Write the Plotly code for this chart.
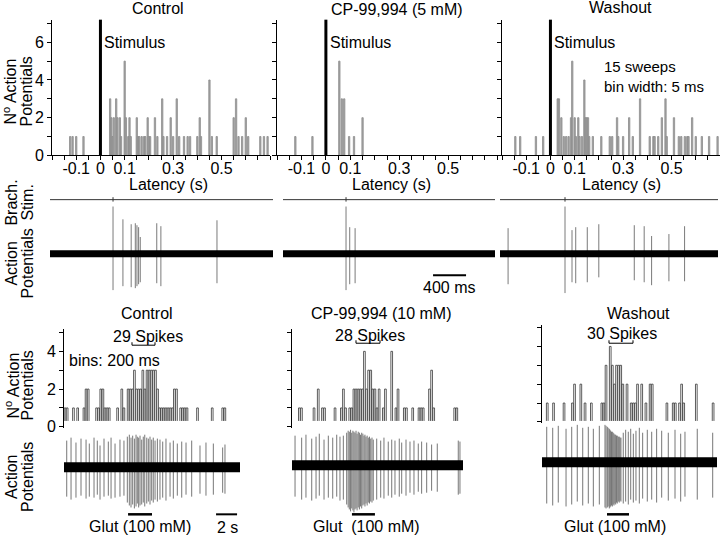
import plotly.graph_objects as go

W, H = 720, 544
FONT = "Liberation Sans, Arial, sans-serif"

# ---------------- top row: latency histograms (bin centre ms, count) ----------------
lat_ctrl_ms = [-125, -115, -100, -70,
               40, 45, 50, 55, 65, 70, 80, 85, 100, 105, 115, 120, 125,
               150, 155, 160, 170, 180, 185, 195, 200, 205,
               225, 235, 255, 260, 275, 290, 300, 315, 325,
               345, 360, 370, 400, 410, 415, 450, 460, 480,
               550, 560, 570, 585, 600, 610, 660, 675, 690]
lat_ctrl_n = [1, 1, 1, 1,
              3, 2, 1, 2, 3, 2, 2, 1, 5, 2, 1, 2, 1,
              2, 1, 1, 1, 1, 1, 2, 1, 1,
              2, 1, 3, 1, 1, 2, 1, 3, 1,
              1, 1, 1, 1, 2, 1, 4, 1, 1,
              2, 3, 1, 1, 2, 1, 1, 1, 1]
lat_cp5_ms = [-125, -55, 55, 65, 75, 95, 115, 150]
lat_cp5_n = [1, 1, 5, 3, 3, 1, 1, 2]
lat_wash_ms = [-145, -125, -60, -30,
               30, 35, 45, 55, 65, 75, 85, 90, 100, 105, 115, 120, 130, 140, 145, 150, 155, 160, 175,
               210, 245, 255, 275, 280, 300, 325, 340, 370,
               410, 425, 430, 445, 460, 475, 480, 510, 530, 540,
               555, 565, 570, 585, 600, 625, 655, 690]
lat_wash_n = [1, 1, 1, 1,
              3, 3, 2, 1, 1, 1, 2, 5, 2, 1, 2, 1, 1, 4, 2, 2, 2, 1, 1,
              1, 1, 1, 2, 1, 1, 2, 1, 3,
              1, 1, 1, 1, 2, 3, 1, 2, 1, 1,
              1, 1, 1, 2, 1, 1, 1, 1]
lat_labels = [-0.1, 0, 0.1, 0.3, 0.5]
top_titles = ["Control", "CP-99,994 (5 mM)", "Washout"]

# ---------------- middle row: single sweeps (spike time s from stimulus, extent up / down) ----------------
sw_ctrl_t = [0.0, 0.12, 0.22, 0.27, 0.29, 0.31, 0.33, 0.53, 0.58, 1.26]
sw_ctrl_up = [48, 35, 30, 31, 29, 27, 17, 31, 28, 34]
sw_ctrl_dn = [37, 33, 34, 35, 33, 31, 29, 30, 33, 30]
sw_cp5_t = [0.0, 0.045, 0.11]
sw_cp5_up = [48, 27, 26]
sw_cp5_dn = [37, 31, 30]
sw_wash_t = [-0.69, 0.0, 0.085, 0.13, 0.27, 0.41, 0.84, 0.96, 1.05, 1.26, 1.45]
sw_wash_up = [26, 48, 24, 27, 27, 30, 29, 28, 18, 20, 28]
sw_wash_dn = [31, 40, 29, 30, 29, 24, 27, 29, 32, 28, 28]

# ---------------- bottom row: glutamate responses ----------------
# 200 ms bins
glu_ctrl_n = [1, 1, 0, 0, 1, 0, 1, 0, 0, 1, 2, 2, 0, 0, 0, 1, 1, 2, 2, 1,
              1, 1, 0, 0, 0, 1, 0, 2, 1, 0, 2, 2, 2, 3, 2, 2, 2, 3, 2, 3,
              3, 3, 3, 3, 2, 1, 1, 1, 1, 1, 1, 1, 2, 2, 0, 1, 1, 1, 1, 0,
              0, 0, 0, 1, 0, 0, 0, 0, 0, 0, 1, 0, 0, 0, 0, 1, 1]
glu_cp10_n = [0, 0, 0, 1, 1, 0, 0, 0, 0, 0, 1, 0, 2, 0, 1, 1, 0, 0, 0, 0,
              1, 0, 0, 1, 2, 1, 0, 1, 1, 2, 2, 2, 2, 2, 4, 2, 3, 3, 2, 2,
              1, 2, 0, 1, 2, 0, 0, 4, 0, 1, 2, 0, 0, 1, 1, 0, 0, 1, 0, 0,
              1, 1, 1, 0, 0, 2, 3, 1, 0, 0, 0, 0, 0, 0, 0, 0, 0, 1, 1]
glu_wash_n = [0, 0, 1, 0, 0, 1, 0, 0, 0, 0, 1, 0, 0, 0, 1, 2, 0, 0, 2, 0,
              1, 0, 0, 1, 0, 0, 0, 0, 1, 1, 3, 0, 4, 3, 2, 3, 3, 3, 2, 0,
              2, 0, 1, 1, 1, 2, 0, 2, 0, 1, 0, 2, 2, 0, 0, 0, 0, 0, 0, 1,
              0, 0, 1, 1, 0, 1, 2, 1, 0, 0, 0, 0, 0, 2, 0, 0, 0, 0, 0, 0,
              0, 1]
bin_s = 0.2

glu_ctrl_t = [0.26, 0.67, 1.14, 1.62, 2.1, 2.41, 2.86, 3.17, 3.43, 3.81, 4.22, 4.48, 4.86, 5.33, 5.71,
              6.03, 6.22, 6.38, 6.54, 6.7, 6.86, 6.98, 7.11, 7.24, 7.4, 7.55, 7.69, 7.88, 8.03, 8.19,
              8.35, 8.5, 8.67, 8.89,
              9.14, 9.4, 9.71, 10.1, 10.41, 10.79, 11.21, 11.62, 12.16, 12.95, 13.52, 14.22, 15.11, 15.33]
glu_ctrl_up = [27, 30, 25, 29, 28, 24, 30, 27, 22, 29, 26, 30, 24, 28, 27,
               31, 33, 30, 32, 29, 33, 31, 30, 32, 28, 31, 33, 30, 29, 31, 28, 30, 27, 29,
               28, 26, 29, 25, 27, 24, 26, 25, 27, 22, 25, 24, 20, 23]
glu_ctrl_dn = [30, 33, 31, 29, 32, 30, 31, 28, 33, 30, 29, 32, 31, 30, 29,
               36, 39, 41, 38, 42, 40, 37, 41, 39, 38, 36, 40, 37, 35, 38, 34, 36, 33, 35,
               33, 31, 34, 30, 32, 29, 31, 28, 30, 27, 29, 28, 26, 27]
glu_cp10_t = [0.29, 0.92, 1.33, 1.88, 2.29, 2.6, 3.05, 3.46, 3.88, 4.26, 4.57, 4.89,
              5.21, 5.35, 5.46, 5.58, 5.69, 5.8, 5.9, 6.0, 6.1, 6.2, 6.31, 6.42, 6.53, 6.64,
              6.75, 6.86, 6.95, 7.05, 7.16, 7.27, 7.38, 7.5, 7.62, 7.74,
              8.07, 8.45, 8.76, 9.17, 9.5, 9.81, 10.22, 10.45, 10.86, 11.24, 11.62, 12.03,
              12.35, 12.83, 13.3, 13.84, 15.84, 16.0]
glu_cp10_up = [30, 28, 31, 27, 29, 32, 26, 30, 28, 31, 29, 30,
               33, 35, 34, 36, 33, 35, 34, 33, 35, 32, 34, 33, 31, 33, 32, 30, 31, 29, 30, 28,
               29, 27, 28, 26,
               27, 25, 28, 24, 26, 25, 27, 23, 26, 24, 25, 22, 24, 23, 21, 22, 25, 24]
glu_cp10_dn = [32, 35, 33, 36, 34, 31, 35, 33, 34, 32, 36, 35,
               40, 43, 45, 47, 44, 46, 48, 45, 44, 46, 43, 45, 42, 44, 41, 40, 42, 39, 41, 38,
               39, 37, 38, 36,
               35, 33, 34, 31, 33, 30, 32, 29, 31, 28, 30, 27, 29, 28, 26, 27, 30, 29]
glu_wash_t = [0.45, 1.02, 1.55, 2.29, 2.83, 3.36, 3.88, 4.41, 4.89, 5.46,
              6.0, 6.1, 6.22, 6.3, 6.41, 6.47, 6.54, 6.62, 6.7, 6.78, 6.86, 6.94, 7.02, 7.1,
              7.17, 7.27, 7.36, 7.44, 7.52,
              7.74, 7.97, 8.22, 8.45, 8.7, 8.95, 9.27, 9.59, 10.03, 10.45, 10.92, 11.4, 12.03,
              12.67, 13.21, 13.62, 14.79, 16.26]
glu_wash_up = [36, 35, 37, 34, 36, 38, 35, 36, 34, 37,
               38, 37, 36, 35, 34, 33, 32, 31, 31, 30, 29, 28, 28, 27, 27, 26, 26, 25, 25,
               30, 33, 31, 34, 29, 32, 35, 30, 33, 31, 34, 32, 30, 33, 29, 31, 34, 30]
glu_wash_dn = [42, 44, 41, 45, 43, 40, 44, 42, 45, 43,
               46, 47, 46, 45, 47, 46, 45, 44, 45, 43, 44, 42, 43, 41, 42, 40, 41, 39, 40,
               42, 40, 43, 38, 41, 39, 42, 37, 40, 38, 41, 36, 39, 37, 40, 35, 38, 36]
glut_on = [6.1, 5.71, 6.19]
glut_off = [8.38, 7.9, 8.29]
spike_counts = [29, 28, 30]
bottom_titles = ["Control", "CP-99,994 (10 mM)", "Washout"]


# ---------------- helpers ----------------
def sfx(i):
    return "" if i == 1 else str(i)


def dom_x(a, b):
    return [a / W, b / W]


def dom_y(top, bottom):
    return [1 - bottom / H, 1 - top / H]


def px(x, y):
    return x / W, 1 - y / H


fig = go.Figure()
layout = {}
shapes = []
annotations = []


def text(x, y, s, size=16, anchor="center", angle=0):
    xp, yp = px(x, y)
    annotations.append(dict(x=xp, y=yp, xref="paper", yref="paper", text=s, showarrow=False,
                            xanchor=anchor, yanchor="middle", textangle=angle, borderpad=0,
                            font=dict(family=FONT, size=size, color="black")))


def vlabel(x, y, lines):
    # rotated two-line label, lines set 16 px apart
    for j, s in enumerate(lines):
        text(x - 8 + 16 * j, y, s, angle=-90)


def bars(i, x, y, width, fill, edge, lw):
    fig.add_trace(go.Bar(x=x, y=y, width=width, xaxis="x" + sfx(i), yaxis="y" + sfx(i),
                         marker=dict(color=fill, line=dict(color=edge, width=lw)),
                         showlegend=False, hoverinfo="skip"))


def spikes(i, t, up, dn, color="#7a7a7a"):
    xs, ys = [], []
    for tt, u, d in zip(t, up, dn):
        xs += [tt, tt, None]
        ys += [u, -d, None]
    fig.add_trace(go.Scatter(x=xs, y=ys, mode="lines", xaxis="x" + sfx(i), yaxis="y" + sfx(i),
                             line=dict(color=color, width=1), showlegend=False, hoverinfo="skip"))


def band(i, thick):
    shapes.append(dict(type="line", xref="x" + sfx(i) + " domain", yref="y" + sfx(i),
                       x0=0, x1=1, y0=0, y1=0, line=dict(color="black", width=thick)))


# ---------------- top: latency histograms ----------------
top_x = [(52, 270), (277, 497), (502, 720)]
top_data = [(lat_ctrl_ms, lat_ctrl_n), (lat_cp5_ms, lat_cp5_n), (lat_wash_ms, lat_wash_n)]
tickv = [round(-0.2 + 0.05 * k, 2) for k in range(19)]
tickt = [("%g" % v if v in lat_labels else "") for v in tickv]
for k in range(3):
    i = k + 1
    ms, n = top_data[k]
    bars(i, [m / 1000 for m in ms], n, 0.0055, "#a6a6a6", "#8c8c8c", 0.8)
    layout["xaxis" + sfx(i)] = dict(domain=dom_x(*top_x[k]), range=[-0.2, 0.7], anchor="y" + sfx(i),
                                   showline=True, linecolor="black", linewidth=1, ticks="outside",
                                   ticklen=4, tickcolor="black", tickvals=tickv, ticktext=tickt,
                                   ticklabelstandoff=-6,
                                   tickfont=dict(family=FONT, size=16, color="black"),
                                   showgrid=False, zeroline=False)
    layout["yaxis" + sfx(i)] = dict(domain=dom_y(20, 158), range=[0, 7.2], anchor="x" + sfx(i),
                                   showline=True, linecolor="black", linewidth=1, ticks="outside",
                                   ticklen=4, tickcolor="black", tickvals=list(range(8)),
                                   ticktext=[str(v) if v % 2 == 0 else "" for v in range(8)],
                                   showticklabels=(k == 0),
                                   tickfont=dict(family=FONT, size=16, color="black"),
                                   showgrid=False, zeroline=False)
    shapes.append(dict(type="line", xref="x" + sfx(i), yref="y" + sfx(i) + " domain",
                       x0=0, x1=0, y0=0, y1=1, line=dict(color="black", width=3)))
    annotations.append(dict(x=0, y=6, xref="x" + sfx(i), yref="y" + sfx(i), text="Stimulus",
                            showarrow=False, xanchor="left", xshift=2,
                            font=dict(family=FONT, size=16, color="black")))

text(158, 9, top_titles[0])
text(397, 10, top_titles[1])
text(620, 8, top_titles[2])
for cx in (168, 392, 621):
    text(cx, 188, "Latency (s)")
vlabel(18, 93, ["N<sup>o</sup> Action", "Potentials"])
text(603, 68, "15 sweeps", size=15, anchor="left")
text(603, 88, "bin width: 5 ms", size=15, anchor="left")

# ---------------- middle: example sweeps ----------------
mid_x = [(50, 273), (283, 495), (500, 718)]
mid_rng = [[-0.764, 1.939], [-0.764, 1.806], [-0.788, 1.855]]
mid_data = [(sw_ctrl_t, sw_ctrl_up, sw_ctrl_dn), (sw_cp5_t, sw_cp5_up, sw_cp5_dn),
            (sw_wash_t, sw_wash_up, sw_wash_dn)]
for k in range(3):
    i = k + 4
    t, u, d = mid_data[k]
    spikes(i, t, u, d)
    band(i, 7)
    layout["xaxis" + sfx(i)] = dict(domain=dom_x(*mid_x[k]), range=mid_rng[k], visible=False,
                                   anchor="y" + sfx(i))
    layout["yaxis" + sfx(i)] = dict(domain=dom_y(200, 300), range=[-42, 58], visible=False,
                                   anchor="x" + sfx(i))
    # brachial stimulus line with a small mark at the stimulus
    shapes.append(dict(type="line", xref="x" + sfx(i) + " domain", yref="y" + sfx(i),
                       x0=0, x1=1, y0=55, y1=55, line=dict(color="#333333", width=1)))
    shapes.append(dict(type="line", xref="x" + sfx(i), yref="y" + sfx(i),
                       x0=0, x1=0, y0=53, y1=57.5, line=dict(color="#333333", width=1)))

shapes.append(dict(type="line", xref="x5", yref="y5 domain", x0=1.055, x1=1.455, y0=0.2, y1=0.2,
                   line=dict(color="black", width=2)))
text(449, 292, "400 ms")
vlabel(20, 206, ["Brach.", "Stim."])
vlabel(20, 268, ["Action", "Potentials"])

# ---------------- bottom: glutamate histograms and traces ----------------
bot_x = [(64, 228), (292, 463), (542, 717)]
bot_rng = [15.6, 16.29, 16.67]
bot_y = [(335, 434), (335, 434), (330, 429)]
bot_counts = [glu_ctrl_n, glu_cp10_n, glu_wash_n]
for k in range(3):
    i = k + 7
    n = bot_counts[k]
    bars(i, [bin_s * j + bin_s / 2 for j in range(len(n))], n, 0.16, "white", "#333333", 0.8)
    layout["xaxis" + sfx(i)] = dict(domain=dom_x(*bot_x[k]), range=[0, bot_rng[k]], anchor="y" + sfx(i),
                                   showline=True, linecolor="black", linewidth=1, ticks="",
                                   showticklabels=False, showgrid=False, zeroline=False)
    layout["yaxis" + sfx(i)] = dict(domain=dom_y(*bot_y[k]), range=[0, 5.16], anchor="x" + sfx(i),
                                   showline=True, linecolor="black", linewidth=1, ticks="outside",
                                   ticklen=4, tickcolor="black", tickvals=list(range(6)),
                                   ticktext=[str(v) if v % 2 == 0 else "" for v in range(6)],
                                   showticklabels=(k == 0),
                                   tickfont=dict(family=FONT, size=16, color="black"),
                                   showgrid=False, zeroline=False)

tr_x = [(64, 240), (292, 463), (542, 717)]
tr_rng = [[0, 16.76], [0, 16.29], [0, 16.67]]
tr_yr = [[-65, 47], [-67, 45], [-70, 42]]
tr_data = [(glu_ctrl_t, glu_ctrl_up, glu_ctrl_dn), (glu_cp10_t, glu_cp10_up, glu_cp10_dn),
           (glu_wash_t, glu_wash_up, glu_wash_dn)]
for k in range(3):
    i = k + 10
    t, u, d = tr_data[k]
    spikes(i, t, u, d, "#777777")
    band(i, 10)
    layout["xaxis" + sfx(i)] = dict(domain=dom_x(*tr_x[k]), range=tr_rng[k], visible=False,
                                   anchor="y" + sfx(i))
    layout["yaxis" + sfx(i)] = dict(domain=dom_y(428, 540), range=tr_yr[k], visible=False,
                                   anchor="x" + sfx(i))
    shapes.append(dict(type="line", xref="x" + sfx(i), yref="y" + sfx(i) + " domain",
                       x0=glut_on[k], x1=glut_off[k], y0=0.152, y1=0.152,
                       line=dict(color="black", width=2.5)))

# 2 s scale bar
shapes.append(dict(type="line", xref="x10", yref="y10 domain", x0=14.48, x1=16.48, y0=0.152, y1=0.152,
                   line=dict(color="black", width=2)))
text(227, 536, "2 s")

text(147, 319, bottom_titles[0])
text(381, 319, bottom_titles[1])
text(638, 319, bottom_titles[2])
for (cx, cy), c, (b0, b1, by) in zip([(148, 342), (370, 341), (622, 339)], spike_counts,
                                     [(132, 155, 351), (356, 380, 349), (609, 633, 349)]):
    text(cx, cy, "%d Spikes" % c)
    x0, y0 = px(b0, by)
    x1, _ = px(b1, by)
    _, yt = px(b0, by - 3)
    shapes.append(dict(type="path", xref="paper", yref="paper",
                       path="M %f %f L %f %f L %f %f L %f %f" % (x0, yt, x0, y0, x1, y0, x1, yt),
                       line=dict(color="black", width=1)))
text(115, 367, "bins: 200 ms")
vlabel(20, 392, ["N<sup>o</sup> Action", "Potentials"])
vlabel(20, 485, ["Action", "Potentials"])
text(140, 535, "Glut (100 mM)")
text(366, 535, "Glut  (100 mM)")
text(615, 535, "Glut (100 mM)")

fig.update_layout(**layout)
fig.update_layout(width=W, height=H, autosize=False, margin=dict(l=0, r=0, t=0, b=0),
                  paper_bgcolor="white", plot_bgcolor="white", barmode="overlay",
                  showlegend=False, shapes=shapes, annotations=annotations,
                  font=dict(family=FONT, size=16, color="black"))

# pin the figure to the window's corner, no page margin or scroll
js = ("document.documentElement.style.margin='0';document.body.style.margin='0';"
      "document.body.style.overflow='hidden';"
      "var d=document.getElementById('{plot_id}');d.style.position='fixed';"
      "d.style.top='0';d.style.left='0';")
fig.write_html("out.html", config={"displayModeBar": False}, post_script=js)
